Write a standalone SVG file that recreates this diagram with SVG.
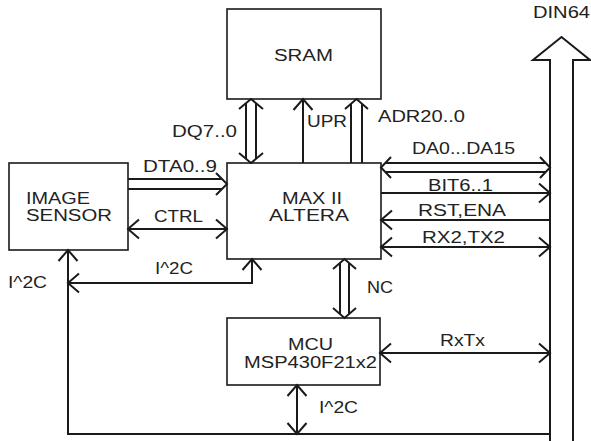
<svg xmlns="http://www.w3.org/2000/svg" width="591" height="441" viewBox="0 0 591 441">
<style>
.box{fill:#fff;stroke:#1a1a1a;stroke-width:1.6}
.ln{fill:none;stroke:#1a1a1a;stroke-width:2}
.t{font-family:"Liberation Sans",Arial,sans-serif;font-size:16px;fill:#222}
</style>
<defs>
<marker id="ah" viewBox="-13 -11 15 22" refX="0" refY="0" markerWidth="15" markerHeight="22" markerUnits="userSpaceOnUse" orient="auto-start-reverse">
<path d="M-11,-9.5 L0,0 L-11,9.5" fill="none" stroke="#1a1a1a" stroke-width="2"/>
</marker>
</defs>
<rect width="591" height="441" fill="#fff"/>

<g id="sram"><rect class="box" x="227" y="9" width="154" height="90"/><text class="t" x="274" y="61" textLength="59" lengthAdjust="spacingAndGlyphs">SRAM</text></g>
<g id="max"><rect class="box" x="227" y="163" width="154" height="96"/><text class="t" x="282" y="204" textLength="60" lengthAdjust="spacingAndGlyphs">MAX II</text><text class="t" x="269" y="221" textLength="80" lengthAdjust="spacingAndGlyphs">ALTERA</text></g>
<g id="sensor"><rect class="box" x="9" y="163" width="119" height="87"/><text class="t" x="26" y="204" textLength="64" lengthAdjust="spacingAndGlyphs">IMAGE</text><text class="t" x="26" y="221" textLength="86" lengthAdjust="spacingAndGlyphs">SENSOR</text></g>
<g id="mcu"><rect class="box" x="227" y="318" width="153" height="67"/><text class="t" x="288" y="350" textLength="45" lengthAdjust="spacingAndGlyphs">MCU</text><text class="t" x="244" y="368" textLength="133" lengthAdjust="spacingAndGlyphs">MSP430F21x2</text></g>
<g id="din64"><path class="ln" d="M550,441 V60 H533 L561.5,37 L590,60 H573 V441"/><text class="t" x="533" y="18" textLength="57" lengthAdjust="spacingAndGlyphs">DIN64</text></g>

<g id="connectors">
<path class="ln" d="M246,103 V159 M256,103 V159 M239,109 L251,99 L263,109 M239,153 L251,163 L263,153"/>
<text class="t" x="172" y="137" textLength="65" lengthAdjust="spacingAndGlyphs">DQ7..0</text>
<line class="ln" x1="303" y1="163" x2="303" y2="99" marker-end="url(#ah)"/>
<text class="t" x="307" y="127" textLength="40" lengthAdjust="spacingAndGlyphs">UPR</text>
<path class="ln" d="M351,163 V104 M362,163 V104 M345,109 L356.5,99 L368,109"/>
<text class="t" x="378" y="122" textLength="87" lengthAdjust="spacingAndGlyphs">ADR20..0</text>
<path class="ln" d="M385,163 H546 M385,172 H546 M391,157 L381,167.5 L391,178 M540,157 L550,167.5 L540,178"/>
<text class="t" x="412" y="154" textLength="103" lengthAdjust="spacingAndGlyphs">DA0...DA15</text>
<line class="ln" x1="381" y1="193" x2="550" y2="193" marker-end="url(#ah)"/>
<text class="t" x="428" y="191" textLength="65" lengthAdjust="spacingAndGlyphs">BIT6..1</text>
<line class="ln" x1="550" y1="220" x2="381" y2="220" marker-end="url(#ah)"/>
<text class="t" x="418" y="216" textLength="88" lengthAdjust="spacingAndGlyphs">RST,ENA</text>
<line class="ln" x1="381" y1="247" x2="550" y2="247" marker-start="url(#ah)" marker-end="url(#ah)"/>
<text class="t" x="422" y="243" textLength="83" lengthAdjust="spacingAndGlyphs">RX2,TX2</text>
<path class="ln" d="M128,179 H222 M128,189 H222 M216,173 L227,184 L216,195"/>
<text class="t" x="143" y="172" textLength="74" lengthAdjust="spacingAndGlyphs">DTA0..9</text>
<line class="ln" x1="128" y1="229" x2="227" y2="229" marker-start="url(#ah)" marker-end="url(#ah)"/>
<text class="t" x="154" y="222" textLength="49" lengthAdjust="spacingAndGlyphs">CTRL</text>
<path class="ln" d="M68,283 H252 V259" marker-start="url(#ah)" marker-end="url(#ah)"/>
<text class="t" x="155" y="274" textLength="38" lengthAdjust="spacingAndGlyphs">I^2C</text>
<path class="ln" d="M550,434 H68 V250" marker-end="url(#ah)"/>
<text class="t" x="8" y="288" textLength="39" lengthAdjust="spacingAndGlyphs">I^2C</text>
<path class="ln" d="M340,263 V314 M349,263 V314 M333,269 L344.5,259 L356,269 M333,308 L344.5,318 L356,308"/>
<text class="t" x="367" y="293" textLength="26" lengthAdjust="spacingAndGlyphs">NC</text>
<line class="ln" x1="380" y1="353" x2="550" y2="353" marker-start="url(#ah)" marker-end="url(#ah)"/>
<text class="t" x="440" y="346" textLength="45" lengthAdjust="spacingAndGlyphs">RxTx</text>
<line class="ln" x1="297" y1="385" x2="297" y2="434" marker-start="url(#ah)" marker-end="url(#ah)"/>
<text class="t" x="319" y="413" textLength="39" lengthAdjust="spacingAndGlyphs">I^2C</text>
</g>
</svg>
